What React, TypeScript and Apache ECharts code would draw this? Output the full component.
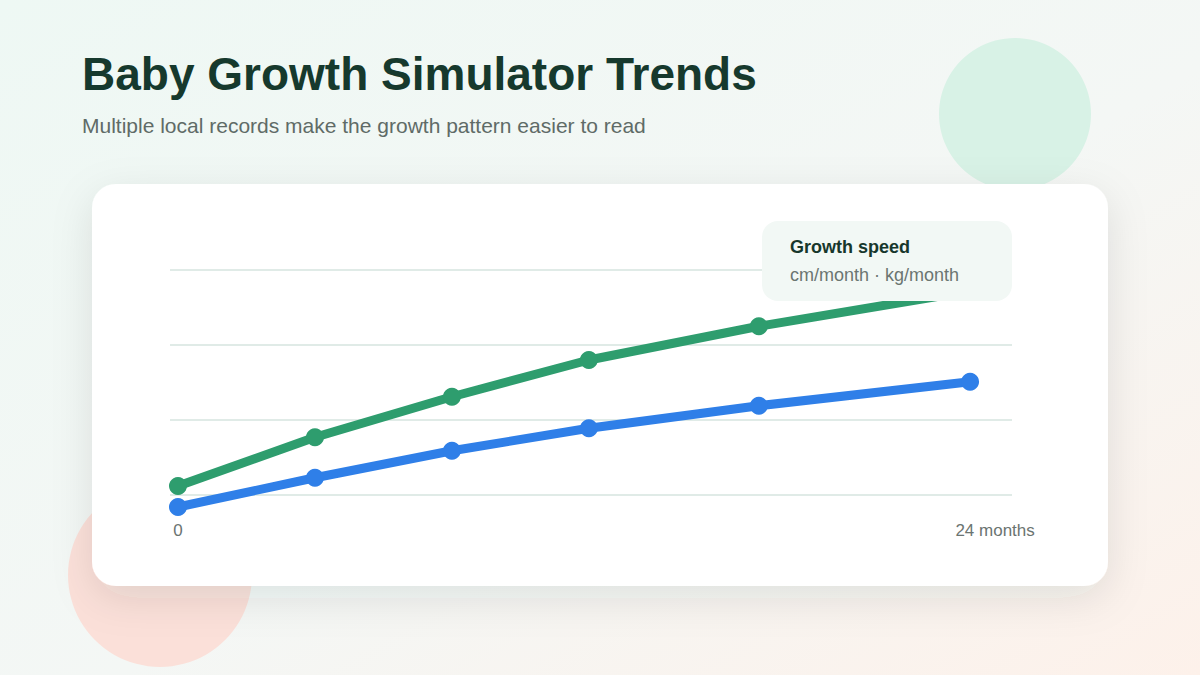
import React, { useEffect, useRef } from "react";
import * as echarts from "echarts";

const months = [0, 4.15, 8.3, 12.45, 17.6, 24];
const greenSeries = [1.12, 1.77, 2.31, 2.8, 3.25, 3.72];
const blueSeries = [0.84, 1.23, 1.59, 1.89, 2.19, 2.51];
const xTickValues = [0, 24];
const xTickLabels = ["0", "24 months"];

const title = "Baby Growth Simulator Trends";
const subtitle = "Multiple local records make the growth pattern easier to read";
const noteTitle = "Growth speed";
const noteText = "cm/month · kg/month";

const FONT = "'Liberation Sans', Arial, Helvetica, sans-serif";

export default function App() {
  const ref = useRef<HTMLDivElement>(null);

  useEffect(() => {
    document.body.style.margin = "0";
    const chart = echarts.init(ref.current!, null, { renderer: "svg" });
    const pair = (xs: number[], ys: number[]) => xs.map((x, i) => [x, ys[i]]);

    chart.setOption({
      animation: false,
      backgroundColor: new echarts.graphic.LinearGradient(0, 0, 1, 1, [
        { offset: 0, color: "#eef8f4" },
        { offset: 0.55, color: "#f4f7f5" },
        { offset: 1, color: "#fdf1ea" },
      ]),
      textStyle: { fontFamily: FONT },
      grid: { left: 170, right: 188, top: 270, bottom: 180, containLabel: false },
      xAxis: {
        type: "value",
        z: 2,
        min: -0.242,
        max: 25.27,
        axisLine: { show: false },
        axisTick: { show: false },
        splitLine: { show: false },
        axisLabel: {
          customValues: xTickValues,
          margin: 27,
          color: "#6b7471",
          fontSize: 17,
          fontFamily: FONT,
          formatter: (v: number) => {
            const i = xTickValues.indexOf(v);
            const t = i >= 0 ? xTickLabels[i] : "";
            return i === xTickValues.length - 1 ? "{r|" + t + "}" : t;
          },
          rich: {
            r: { padding: [0, 0, 0, 50], color: "#6b7471", fontSize: 17, fontFamily: FONT },
          },
        },
      },
      yAxis: {
        type: "value",
        z: 2,
        min: 1,
        max: 4,
        interval: 1,
        axisLine: { show: false },
        axisTick: { show: false },
        axisLabel: { show: false },
        splitLine: { show: true, lineStyle: { color: "#d6e4df", width: 1.5 } },
      },
      graphic: [
        {
          type: "circle",
          z: 0,
          shape: { cx: 1015, cy: 114, r: 76 },
          style: { fill: "#d8f2e6" },
        },
        {
          type: "circle",
          z: 0,
          shape: { cx: 160, cy: 575, r: 92 },
          style: { fill: "#fbe0d9" },
        },
        {
          type: "rect",
          z: 1,
          shape: { x: 92, y: 184, width: 1016, height: 402, r: 24 },
          style: {
            fill: "#ffffff",
            shadowBlur: 40,
            shadowColor: "rgba(20,60,45,0.10)",
            shadowOffsetY: 12,
          },
        },
        {
          type: "text",
          z: 5,
          left: 82,
          top: 51,
          style: {
            text: title,
            font: "bold 46px " + FONT,
            fill: "#16392d",
          },
        },
        {
          type: "text",
          z: 5,
          left: 82,
          top: 115,
          style: {
            text: subtitle,
            font: "21px " + FONT,
            fill: "#5f6b67",
          },
        },
        {
          type: "rect",
          z: 100,
          shape: { x: 762, y: 221, width: 250, height: 80, r: 16 },
          style: { fill: "#f2f8f5" },
        },
        {
          type: "text",
          z: 101,
          left: 790,
          top: 238,
          style: { text: noteTitle, font: "bold 18px " + FONT, fill: "#17372c" },
        },
        {
          type: "text",
          z: 101,
          left: 790,
          top: 266,
          style: { text: noteText, font: "18px " + FONT, fill: "#6b7571" },
        },
      ],
      series: [
        {
          name: "Length",
          type: "line",
          z: 3,
          clip: false,
          data: pair(months, greenSeries),
          symbol: "circle",
          symbolSize: 18,
          lineStyle: { color: "#2e9d6e", width: 9 },
          itemStyle: { color: "#2e9d6e" },
        },
        {
          name: "Weight",
          type: "line",
          z: 4,
          clip: false,
          data: pair(months, blueSeries),
          symbol: "circle",
          symbolSize: 18,
          lineStyle: { color: "#2f7fe8", width: 9 },
          itemStyle: { color: "#2f7fe8" },
        },
      ],
    });

    return () => chart.dispose();
  }, []);

  return <div ref={ref} style={{ width: 1200, height: 675 }} />;
}
